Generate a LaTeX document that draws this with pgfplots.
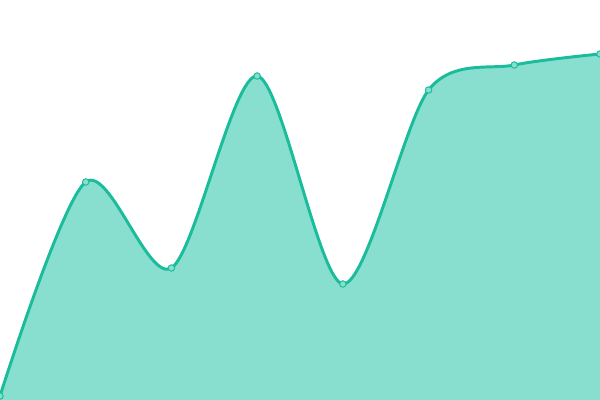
\documentclass[border=0pt]{standalone}
\usepackage{pgfplots}
\pgfplotsset{compat=1.18}
\definecolor{tealline}{RGB}{26,188,156}
\definecolor{tealfill}{RGB}{137,223,207}
\begin{document}
\begin{tikzpicture}
\begin{axis}[
  name=ax,
  axis line style={draw=none},
  ticks=none,
  scale only axis,
  width=15cm, height=10cm,
  xmin=0, xmax=7,
  ymin=0, ymax=400,
  clip=true,
]
\addplot[draw=none, fill=tealfill, smooth, tension=0.5]
  coordinates {(0,4) (1,218) (2,132) (3,324) (4,116) (5,310) (6,335) (7,346)} \closedcycle;
\addplot[tealline, line width=2.1pt, smooth, tension=0.5,
  mark=*, mark size=2.3pt,
  mark options={fill=tealfill, draw=tealline, line width=0.7pt}]
  coordinates {(0,4) (1,218) (2,132) (3,324) (4,116) (5,310) (6,335) (7,346)};
\end{axis}
\pgfresetboundingbox
\path[use as bounding box] (ax.south west) rectangle (ax.north east);
\end{tikzpicture}
\end{document}
